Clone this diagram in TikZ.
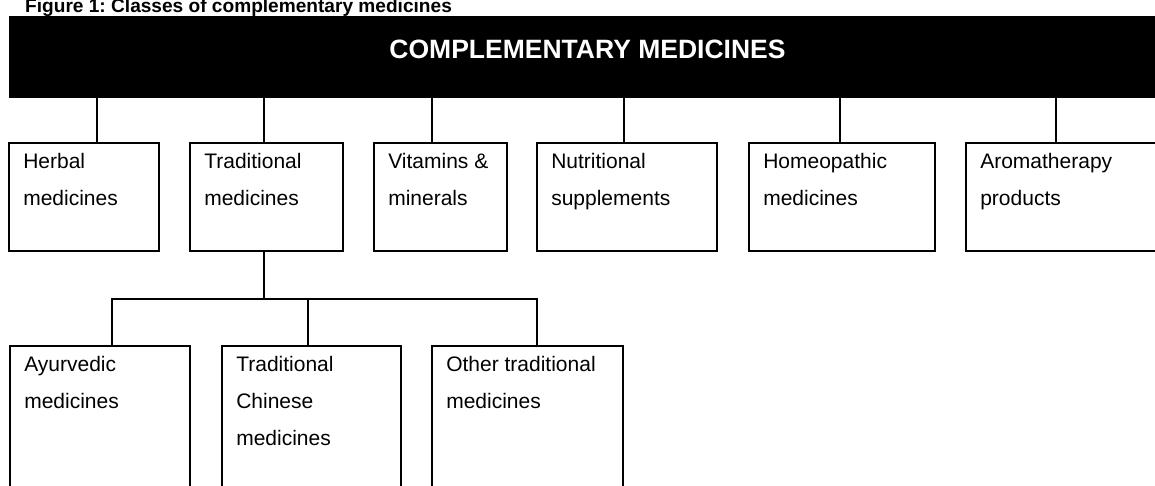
\documentclass[tikz,border=0pt]{standalone}
\usepackage{fontspec}
\setmainfont{Liberation Sans}
\usepackage{tikz}
\usetikzlibrary{positioning}

\frenchspacing
\newcommand{\boxfont}{\fontsize{21}{37}\selectfont}

\tikzset{
  catbox/.style={draw, line width=1.8pt, rectangle, inner sep=0pt, minimum height=108pt},
  subbox/.style={catbox, minimum height=160pt},
  cattext/.style={anchor=north west, inner sep=0pt, align=left, font=\boxfont,
    execute at begin node=\strut},
  link/.style={line width=1.8pt}
}

\begin{document}
\begin{tikzpicture}[x=1pt,y=-1pt]
  \clip (0,0) rectangle (1155,485);
  % title and the black heading bar
  \node[anchor=base west, inner sep=0pt, font=\fontsize{19.1}{23}\selectfont\bfseries] (figtitle) at (25,12.5) {Figure 1: Classes of complementary medicines};
  \node[fill=black, inner sep=0pt, minimum width=1160pt, minimum height=82pt] (bar) at (589,57) {};
  \node[anchor=base, inner sep=0pt, text=white, font=\fontsize{26.5}{30}\selectfont\bfseries] (bartext) at (587.5,58) {COMPLEMENTARY MEDICINES};
  % first level classes
  \node[catbox, minimum width=150pt] (herbal)    at (84,197)    {};
  \node[catbox, minimum width=153pt] (tradmed)   at (266.5,197) {};
  \node[catbox, minimum width=133pt] (vitamins)  at (440.5,197) {};
  \node[catbox, minimum width=180pt] (nutrition) at (627,197)   {};
  \node[catbox, minimum width=186pt] (homeo)     at (842,197)   {};
  \node[catbox, minimum width=200pt] (aroma)     at (1066,197)  {};
  \node[cattext] (herbal-t)    at ([shift={(15,11.1)}]herbal.north west)    {Herbal\\medicines};
  \node[cattext] (tradmed-t)   at ([shift={(15,11.1)}]tradmed.north west)   {Traditional\\medicines};
  \node[cattext] (vitamins-t)  at ([shift={(15,11.1)}]vitamins.north west)  {Vitamins \&\\minerals};
  \node[cattext] (nutrition-t) at ([shift={(15,11.1)}]nutrition.north west) {Nutritional\\supplements};
  \node[cattext] (homeo-t)     at ([shift={(15,11.1)}]homeo.north west)     {Homeopathic\\medicines};
  \node[cattext] (aroma-t)     at ([shift={(15,11.1)}]aroma.north west)     {Aromatherapy\\products};
  % drops from the bar
  \draw[link] ([xshift=13pt]herbal.north)     -- ([xshift=13pt]herbal.north |- bar.south);
  \draw[link] ([xshift=-2.5pt]tradmed.north)  -- ([xshift=-2.5pt]tradmed.north |- bar.south);
  \draw[link] ([xshift=-8.5pt]vitamins.north) -- ([xshift=-8.5pt]vitamins.north |- bar.south);
  \draw[link] ([xshift=-3pt]nutrition.north)  -- ([xshift=-3pt]nutrition.north |- bar.south);
  \draw[link] ([xshift=-2pt]homeo.north)      -- ([xshift=-2pt]homeo.north |- bar.south);
  \draw[link] ([xshift=-10pt]aroma.north)     -- ([xshift=-10pt]aroma.north |- bar.south);
  % traditional medicines subtree
  \node[subbox, minimum width=180pt] (ayur)  at (100,426)   {};
  \node[subbox, minimum width=179pt] (tcm)   at (311.5,426) {};
  \node[subbox, minimum width=191pt] (other) at (527.5,426) {};
  \node[cattext] (ayur-t)  at ([shift={(15,11.1)}]ayur.north west)  {Ayurvedic\\medicines};
  \node[cattext] (tcm-t)   at ([shift={(15,11.1)}]tcm.north west)   {Traditional\\Chinese\\medicines};
  \node[cattext] (other-t) at ([shift={(15,11.1)}]other.north west) {Other traditional\\medicines};
  \coordinate (branch) at (264,299);
  \draw[link] ([xshift=-2.5pt]tradmed.south) -- (branch);
  \draw[link] ([xshift=12pt]ayur.north) |- ([xshift=9.5pt]other.north |- branch) -- ([xshift=9.5pt]other.north);
  \draw[link] ([xshift=-3.5pt]tcm.north) -- ([xshift=-3.5pt]tcm.north |- branch);
\end{tikzpicture}
\end{document}
